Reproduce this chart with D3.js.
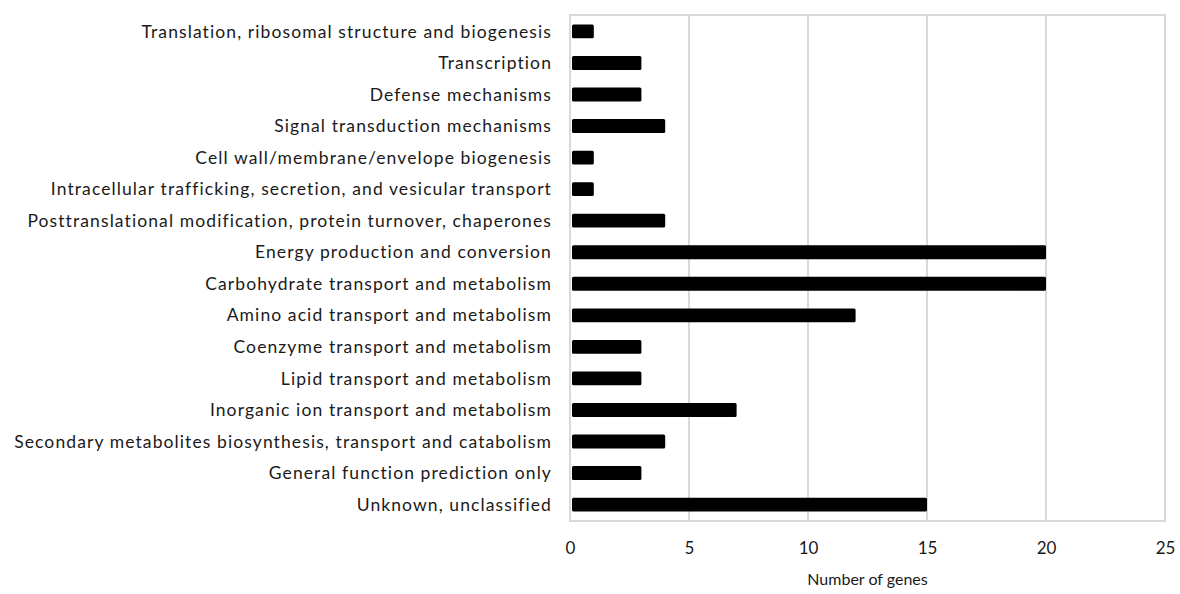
<!DOCTYPE html>
<html><head><meta charset="utf-8">
<script src="https://cdn.jsdelivr.net/npm/d3@7"></script>
<style>body{margin:0;background:#fff;} text{font-family:Lato, "Open Sans", sans-serif;}</style>
</head><body><svg id="c" width="1180" height="594"></svg>
<script>
const categories = [
 "Translation, ribosomal structure and biogenesis",
 "Transcription",
 "Defense mechanisms",
 "Signal transduction mechanisms",
 "Cell wall/membrane/envelope biogenesis",
 "Intracellular trafficking, secretion, and vesicular transport",
 "Posttranslational modification, protein turnover, chaperones",
 "Energy production and conversion",
 "Carbohydrate transport and metabolism",
 "Amino acid transport and metabolism",
 "Coenzyme transport and metabolism",
 "Lipid transport and metabolism",
 "Inorganic ion transport and metabolism",
 "Secondary metabolites biosynthesis, transport and catabolism",
 "General function prediction only",
 "Unknown, unclassified"
];
const values = [1,3,3,4,1,1,4,20,20,12,3,3,7,4,3,15];
const xTicks = [0,5,10,15,20,25];
const xTitle = "Number of genes";

const svg = d3.select("#c");
const m = {l:570, r:1165, t:15, b:521};
const x = d3.scaleLinear().domain([0,25]).range([m.l, m.r]);
const y = d3.scaleBand().domain(categories).range([m.t, m.b]).paddingInner(0.56).paddingOuter(0.3);

// gridlines
svg.append("g").selectAll("line").data(xTicks.slice(1)).join("line")
  .attr("x1", d=>x(d)).attr("x2", d=>x(d)).attr("y1", m.t).attr("y2", m.b)
  .attr("stroke", "#d9d9d9").attr("stroke-width", 2);
// box
svg.append("rect").attr("x", m.l).attr("y", m.t).attr("width", m.r-m.l).attr("height", m.b-m.t)
  .attr("fill","none").attr("stroke","#d9d9d9").attr("stroke-width",2);

// bars
svg.append("g").selectAll("rect").data(values).join("rect")
  .attr("x", x(0)+2).attr("y", (d,i)=>y(categories[i]))
  .attr("width", d=>x(d)-x(0)-2).attr("height", y.bandwidth())
  .attr("rx", 1.5).attr("fill", "#000");

// category labels
svg.append("g").selectAll("text").data(categories).join("text")
  .attr("x", 552).attr("y", d=>y(d)+y.bandwidth()/2).attr("dy","0.35em")
  .attr("text-anchor","end").attr("font-size", 17.5).attr("letter-spacing", 1.1)
  .attr("fill","#1a1a1a").text(d=>d);

// x axis labels
const ax = d3.axisBottom(x).tickValues(xTicks).tickSize(0).tickPadding(0);
const g = svg.append("g").attr("transform", `translate(0,${m.b+21})`).call(ax);
g.select(".domain").remove();
g.selectAll("text").attr("font-size", 17).attr("fill","#1a1a1a").attr("font-family","Lato, sans-serif");

svg.append("text").attr("x", (m.l+m.r)/2).attr("y", 585).attr("text-anchor","middle")
  .attr("font-size", 16).attr("fill","#1a1a1a").text(xTitle);
</script></body></html>
